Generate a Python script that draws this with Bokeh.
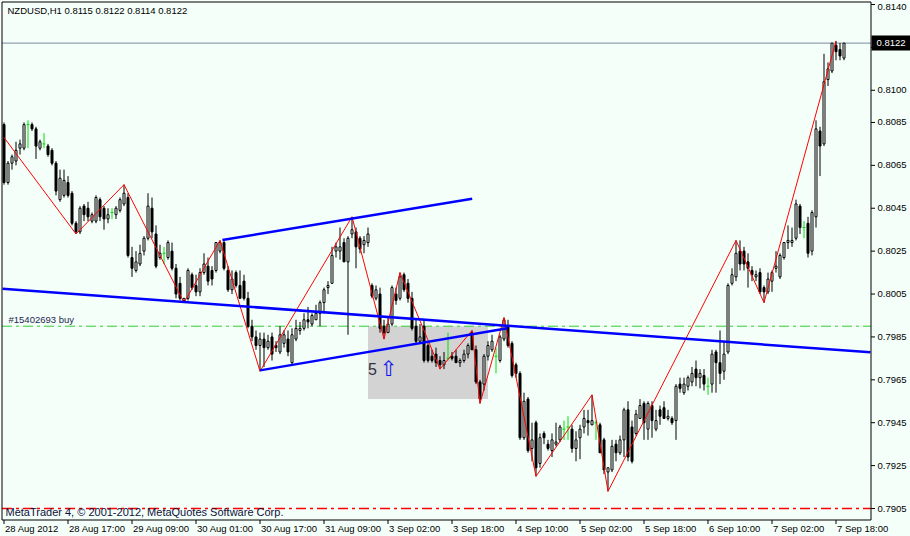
import numpy as np
from bokeh.plotting import figure
from bokeh.models import Range1d
from bokeh.core.properties import value
from bokeh.embed import file_html
from bokeh.resources import INLINE

# ---- NZDUSD H1 candles (bar index 0 = 28 Aug 2012 01:00) ----
opens = [
    0.8084, 0.8057, 0.8066, 0.8067, 0.8073, 0.8073, 0.8084, 0.8084, 0.8082, 0.8073,
    0.8075, 0.8074, 0.8072, 0.8066, 0.8049, 0.8051, 0.8057, 0.8052, 0.8038, 0.8034,
    0.8046, 0.8045, 0.8039, 0.8039, 0.8049, 0.8045, 0.8040, 0.8043, 0.8042, 0.8044,
    0.8047, 0.8050, 0.8022, 0.8016, 0.8019, 0.8025, 0.8031, 0.8045, 0.8033, 0.8022,
    0.8024, 0.8022, 0.8025, 0.8017, 0.8010, 0.8002, 0.8003, 0.8014, 0.8009, 0.8006,
    0.8015, 0.8018, 0.8016, 0.8016, 0.8025, 0.8029, 0.8016, 0.8007, 0.8015, 0.8009,
    0.8011, 0.8003, 0.7990, 0.7985, 0.7981, 0.7984, 0.7980, 0.7985, 0.7981, 0.7978,
    0.7982, 0.7984, 0.7973, 0.7984, 0.7988, 0.7989, 0.7993, 0.7991, 0.7993, 0.7996,
    0.8001, 0.8008, 0.8010, 0.8025, 0.8025, 0.8029, 0.8020, 0.8033, 0.8034, 0.8031,
    0.8028, 0.8029, 0.8009, 0.8003, 0.8005, 0.7990, 0.7987, 0.7991, 0.8005, 0.8003,
    0.8014, 0.8010, 0.8003, 0.7990, 0.7983, 0.7990, 0.7981, 0.7976, 0.7977, 0.7974,
    0.7972, 0.7975, 0.7976, 0.7976, 0.7973, 0.7974, 0.7977, 0.7987, 0.7979, 0.7964,
    0.7963, 0.7976, 0.7979, 0.7976, 0.7974, 0.7984, 0.7990, 0.7982, 0.7972, 0.7968,
    0.7938, 0.7956, 0.7933, 0.7945, 0.7926, 0.7940, 0.7935, 0.7932, 0.7935, 0.7937,
    0.7942, 0.7943, 0.7942, 0.7933, 0.7938, 0.7943, 0.7946, 0.7944, 0.7945, 0.7944,
    0.7937, 0.7922, 0.7923, 0.7935, 0.7931, 0.7937, 0.7951, 0.7943, 0.7940, 0.7947,
    0.7954, 0.7942, 0.7953, 0.7942, 0.7951, 0.7952, 0.7947, 0.7947, 0.7946, 0.7963,
    0.7959, 0.7962, 0.7964, 0.7970, 0.7966, 0.7967, 0.7962, 0.7963, 0.7978, 0.7973,
    0.7969, 0.7978, 0.8010, 0.8013, 0.8025, 0.8025, 0.8020, 0.8016, 0.8013, 0.8015,
    0.8008, 0.8006, 0.8011, 0.8017, 0.8013, 0.8022, 0.8029, 0.8029, 0.8031, 0.8046,
    0.8036, 0.8038, 0.8025, 0.8041, 0.8081, 0.8075, 0.8105, 0.8109, 0.8121, 0.8119,
    0.8115,
]
highs = [
    0.8085, 0.8067, 0.8070, 0.8076, 0.8077, 0.8085, 0.8086, 0.8085, 0.8083, 0.8077,
    0.8080, 0.8075, 0.8073, 0.8067, 0.8063, 0.8063, 0.8060, 0.8053, 0.8039, 0.8046,
    0.8047, 0.8048, 0.8043, 0.8051, 0.8050, 0.8046, 0.8045, 0.8045, 0.8046, 0.8050,
    0.8056, 0.8052, 0.8027, 0.8025, 0.8028, 0.8032, 0.8052, 0.8050, 0.8037, 0.8028,
    0.8027, 0.8030, 0.8029, 0.8019, 0.8013, 0.8003, 0.8017, 0.8015, 0.8014, 0.8017,
    0.8024, 0.8022, 0.8018, 0.8029, 0.8030, 0.8030, 0.8018, 0.8016, 0.8016, 0.8016,
    0.8014, 0.8006, 0.7993, 0.7988, 0.7987, 0.7987, 0.7986, 0.7987, 0.7983, 0.7990,
    0.7988, 0.7988, 0.7989, 0.7993, 0.7992, 0.7996, 0.7999, 0.7996, 0.8000, 0.8002,
    0.8008, 0.8011, 0.8027, 0.8029, 0.8036, 0.8031, 0.8032, 0.8041, 0.8036, 0.8032,
    0.8032, 0.8036, 0.8010, 0.8009, 0.8008, 0.7993, 0.7994, 0.8009, 0.8008, 0.8015,
    0.8015, 0.8012, 0.8006, 0.7993, 0.7991, 0.7993, 0.7982, 0.7979, 0.7980, 0.7976,
    0.7978, 0.7987, 0.7978, 0.7979, 0.7975, 0.7979, 0.7982, 0.7988, 0.7981, 0.7965,
    0.7977, 0.7983, 0.7986, 0.7980, 0.7986, 0.7994, 0.7993, 0.7983, 0.7973, 0.7969,
    0.7959, 0.7957, 0.7945, 0.7946, 0.7940, 0.7941, 0.7937, 0.7940, 0.7945, 0.7944,
    0.7946, 0.7948, 0.7944, 0.7941, 0.7944, 0.7951, 0.7951, 0.7958, 0.7946, 0.7945,
    0.7938, 0.7924, 0.7937, 0.7937, 0.7939, 0.7952, 0.7955, 0.7946, 0.7951, 0.7956,
    0.7955, 0.7955, 0.7955, 0.7951, 0.7953, 0.7955, 0.7951, 0.7948, 0.7963, 0.7966,
    0.7966, 0.7967, 0.7971, 0.7974, 0.7970, 0.7970, 0.7966, 0.7979, 0.7979, 0.7988,
    0.7983, 0.8010, 0.8017, 0.8030, 0.8030, 0.8027, 0.8024, 0.8018, 0.8016, 0.8017,
    0.8009, 0.8015, 0.8016, 0.8025, 0.8024, 0.8029, 0.8037, 0.8036, 0.8049, 0.8047,
    0.8039, 0.8041, 0.8044, 0.8086, 0.8083, 0.8117, 0.8113, 0.8122, 0.8123, 0.8122,
    0.8122,
]
lows = [
    0.8056, 0.8056, 0.8063, 0.8065, 0.8070, 0.8072, 0.8073, 0.8081, 0.8068, 0.8072,
    0.8073, 0.8069, 0.8065, 0.8051, 0.8048, 0.8050, 0.8050, 0.8037, 0.8033, 0.8033,
    0.8039, 0.8039, 0.8038, 0.8038, 0.8039, 0.8035, 0.8038, 0.8040, 0.8040, 0.8043,
    0.8046, 0.8022, 0.8013, 0.8015, 0.8018, 0.8023, 0.8030, 0.8031, 0.8017, 0.8021,
    0.8019, 0.8021, 0.8016, 0.8003, 0.8002, 0.8001, 0.8002, 0.8007, 0.8004, 0.8004,
    0.8014, 0.8009, 0.8009, 0.8015, 0.8024, 0.8016, 0.8006, 0.8005, 0.8008, 0.8003,
    0.8002, 0.7989, 0.7983, 0.7979, 0.7969, 0.7971, 0.7979, 0.7974, 0.7978, 0.7977,
    0.7980, 0.7976, 0.7972, 0.7983, 0.7986, 0.7988, 0.7989, 0.7990, 0.7993, 0.7990,
    0.7996, 0.8005, 0.8010, 0.8022, 0.8021, 0.8020, 0.7986, 0.8031, 0.8017, 0.8024,
    0.8024, 0.8027, 0.8003, 0.8002, 0.7987, 0.7984, 0.7987, 0.7990, 0.8000, 0.8002,
    0.8006, 0.8001, 0.7988, 0.7982, 0.7982, 0.7973, 0.7973, 0.7973, 0.7971, 0.7970,
    0.7970, 0.7974, 0.7974, 0.7973, 0.7971, 0.7973, 0.7975, 0.7979, 0.7963, 0.7954,
    0.7960, 0.7974, 0.7978, 0.7968, 0.7973, 0.7983, 0.7980, 0.7966, 0.7966, 0.7937,
    0.7937, 0.7931, 0.7927, 0.7920, 0.7924, 0.7935, 0.7932, 0.7929, 0.7934, 0.7936,
    0.7937, 0.7937, 0.7931, 0.7927, 0.7928, 0.7940, 0.7939, 0.7944, 0.7937, 0.7931,
    0.7921, 0.7913, 0.7922, 0.7927, 0.7930, 0.7929, 0.7927, 0.7926, 0.7939, 0.7947,
    0.7937, 0.7937, 0.7938, 0.7941, 0.7944, 0.7947, 0.7946, 0.7944, 0.7937, 0.7959,
    0.7958, 0.7960, 0.7962, 0.7962, 0.7961, 0.7960, 0.7958, 0.7959, 0.7959, 0.7963,
    0.7965, 0.7977, 0.8009, 0.8011, 0.8016, 0.8016, 0.8008, 0.8011, 0.8011, 0.8005,
    0.8001, 0.8005, 0.8006, 0.8015, 0.8012, 0.8021, 0.8026, 0.8027, 0.8030, 0.8033,
    0.8031, 0.8022, 0.8023, 0.8036, 0.8060, 0.8074, 0.8102, 0.8108, 0.8114, 0.8114,
    0.8114,
]
closes = [
    0.8057, 0.8066, 0.8069, 0.8072, 0.8075, 0.8084, 0.8084, 0.8082, 0.8074, 0.8076,
    0.8075, 0.8070, 0.8066, 0.8053, 0.8059, 0.8058, 0.8051, 0.8038, 0.8034, 0.8045,
    0.8042, 0.8041, 0.8042, 0.8050, 0.8041, 0.8040, 0.8042, 0.8043, 0.8045, 0.8049,
    0.8052, 0.8023, 0.8017, 0.8020, 0.8024, 0.8031, 0.8046, 0.8034, 0.8018, 0.8024,
    0.8024, 0.8029, 0.8017, 0.8005, 0.8003, 0.8003, 0.8016, 0.8008, 0.8006, 0.8015,
    0.8019, 0.8011, 0.8012, 0.8029, 0.8029, 0.8017, 0.8007, 0.8012, 0.8009, 0.8003,
    0.8003, 0.7990, 0.7985, 0.7981, 0.7984, 0.7980, 0.7983, 0.7977, 0.7980, 0.7986,
    0.7986, 0.7978, 0.7986, 0.7989, 0.7989, 0.7993, 0.7992, 0.7995, 0.7996, 0.8001,
    0.8007, 0.8009, 0.8023, 0.8027, 0.8027, 0.8020, 0.8031, 0.8035, 0.8027, 0.8026,
    0.8030, 0.8033, 0.8004, 0.8007, 0.7989, 0.7987, 0.7991, 0.8008, 0.8002, 0.8013,
    0.8007, 0.8003, 0.7989, 0.7983, 0.7985, 0.7974, 0.7974, 0.7974, 0.7973, 0.7972,
    0.7974, 0.7975, 0.7975, 0.7973, 0.7974, 0.7977, 0.7981, 0.7979, 0.7964, 0.7956,
    0.7976, 0.7981, 0.7983, 0.7976, 0.7985, 0.7993, 0.7981, 0.7967, 0.7968, 0.7938,
    0.7955, 0.7932, 0.7937, 0.7924, 0.7938, 0.7938, 0.7933, 0.7937, 0.7936, 0.7943,
    0.7942, 0.7943, 0.7933, 0.7937, 0.7942, 0.7947, 0.7945, 0.7946, 0.7945, 0.7931,
    0.7923, 0.7924, 0.7934, 0.7931, 0.7937, 0.7951, 0.7929, 0.7927, 0.7949, 0.7953,
    0.7945, 0.7954, 0.7946, 0.7946, 0.7948, 0.7947, 0.7948, 0.7945, 0.7962, 0.7961,
    0.7963, 0.7966, 0.7968, 0.7966, 0.7968, 0.7963, 0.7962, 0.7977, 0.7973, 0.7968,
    0.7977, 0.8009, 0.8014, 0.8024, 0.8019, 0.8019, 0.8017, 0.8014, 0.8014, 0.8006,
    0.8006, 0.8012, 0.8015, 0.8018, 0.8023, 0.8029, 0.8030, 0.8030, 0.8047, 0.8036,
    0.8036, 0.8024, 0.8043, 0.8082, 0.8074, 0.8104, 0.8110, 0.8122, 0.8118, 0.8116,
    0.8122,
]

# ---- ZigZag turning points (bar index, price) ----
zz_bars = [0, 18, 30, 45, 54, 64, 87, 95, 99, 109, 117, 119, 125, 133, 147, 151, 183, 190, 208]
zz_prices = [0.8078, 0.8033, 0.8056, 0.8001, 0.8030, 0.7969, 0.8041, 0.7984, 0.8015, 0.7970,
             0.7988, 0.7954, 0.7994, 0.7920, 0.7958, 0.7913, 0.8030, 0.8001, 0.8123]

# ---- trend lines: long support, channel top, channel bottom ----
tl_bar0 = [-0.375, 54.6, 64.0]
tl_price0 = [0.80075, 0.80302, 0.79694]
tl_bar1 = [216.625, 117.05, 125.9]
tl_price1 = [0.79778, 0.80494, 0.79890]

# ---- shaded zone ----
zone_bars = [91, 121]
zone_prices = [0.7956, 0.7990]

# ---- horizontal levels ----
bid_price = 0.8122
order_price = 0.7990
stop_price = 0.7905

# ---- scales ----
price_ticks = [0.7905, 0.7925, 0.7945, 0.7965, 0.7985, 0.8005, 0.8025, 0.8045,
               0.8065, 0.8085, 0.8100, 0.8120, 0.8140]
time_ticks = [0, 16, 32, 48, 64, 80, 96, 112, 128, 144, 160, 176, 192, 208]
time_labels = ["28 Aug 2012", "28 Aug 17:00", "29 Aug 09:00", "30 Aug 01:00",
               "30 Aug 17:00", "31 Aug 09:00", "3 Sep 02:00", "3 Sep 18:00",
               "4 Sep 10:00", "5 Sep 02:00", "5 Sep 18:00", "6 Sep 10:00",
               "7 Sep 02:00", "7 Sep 18:00"]

title_text = "NZDUSD,H1  0.8115 0.8122 0.8114 0.8122"
order_text = "#15402693 buy"
watermark = "MetaTrader 4, \u00a9 2001-2012, MetaQuotes Software Corp."

W, H = 910, 536
BG = "#F5FFFA"
FONT = "Liberation Sans"
DOJI = "#00E000"

# Terminal-style layout: 4 px per hourly bar, 0.0235 of price per 504 px.
PX_PER_PRICE = 504 / 0.0235
TOP_PRICE, TOP_PX = 0.8140, 4.0


def at_y(px):
    """Price shown at a given pixel row of the chart window."""
    return TOP_PRICE - (px - TOP_PX) / PX_PER_PRICE


def at_x(px):
    """Bar position shown at a given pixel column of the chart window."""
    return (px - 3.5) / 4.0


def px_h(px):
    """A pixel height expressed in price units."""
    return px / PX_PER_PRICE


o = np.array(opens)
h = np.array(highs)
l = np.array(lows)
c = np.array(closes)
idx = np.arange(len(o))
up = c > o
down = c < o
flat = c == o

p = figure(width=W, height=H, output_backend="svg", toolbar_location=None,
           x_range=Range1d(at_x(0), at_x(W)), y_range=Range1d(at_y(H), at_y(0)),
           x_axis_location=None, y_axis_location=None, min_border=0,
           background_fill_color=BG, border_fill_color=BG, outline_line_color=None)
p.grid.visible = False

left, right = at_x(1.5), at_x(870.5)
top, bottom = at_y(1.5), at_y(519.5)

# shaded zone sits under the candles
p.quad(left=[zone_bars[0]], right=[zone_bars[1]], bottom=[zone_prices[0]], top=[zone_prices[1]],
       fill_color="#D3D3D3", line_color=None)

# horizontal levels
p.segment(x0=[left], x1=[right], y0=[bid_price], y1=[bid_price], line_color="#778899", line_width=1)
p.segment(x0=[left], x1=[right], y0=[order_price], y1=[order_price], line_color="#32CD32",
          line_width=1, line_dash="10 4 3 4")
p.segment(x0=[left], x1=[right], y0=[stop_price], y1=[stop_price], line_color="#FF0000",
          line_width=1.5, line_dash="10 4 3 4")

# candles
p.segment(x0=idx[~flat], y0=l[~flat], x1=idx[~flat], y1=h[~flat], line_color="black", line_width=1)
p.vbar(x=idx[up], width=0.5, bottom=o[up], top=c[up], fill_color=BG,
       line_color="black", line_width=1)
p.vbar(x=idx[down], width=0.5, bottom=c[down], top=o[down], fill_color="black",
       line_color="black", line_width=1)
p.segment(x0=idx[flat], y0=l[flat], x1=idx[flat], y1=h[flat], line_color=DOJI, line_width=1)
p.segment(x0=idx[flat] - 0.375, y0=o[flat], x1=idx[flat] + 0.375, y1=o[flat],
          line_color=DOJI, line_width=1)

# zigzag and trend lines
p.line(zz_bars, zz_prices, line_color="#FF0000", line_width=1)
p.segment(x0=tl_bar0, y0=tl_price0, x1=tl_bar1, y1=tl_price1, line_color="#0000FF", line_width=2.5)

# chart frame
p.quad(left=[left], right=[right], bottom=[bottom], top=[top], fill_color=None,
       line_color="black", line_width=1)

# texts inside the chart
p.text(x=[at_x(7)], y=[at_y(10)], text=[title_text], text_baseline="middle",
       text_font=value(FONT), text_font_size=value("9.5px"), text_color="black")
p.text(x=[at_x(8)], y=[order_price], text=[order_text], y_offset=-1, text_baseline="bottom",
       text_font=value(FONT), text_font_size=value("9.5px"), text_color="#1E1E50")
p.text(x=[at_x(5)], y=[at_y(511)], text=[watermark], text_baseline="middle",
       text_font=value(FONT), text_font_size=value("11px"), text_color="#10103A")
p.text(x=[zone_bars[0]], y=[0.7970], text=["5"], text_baseline="middle",
       text_font=value(FONT), text_font_size=value("16px"), text_color="#303040")
p.text(x=[zone_bars[0] + 3.0], y=[0.7970], text=["\u21e7"], text_baseline="middle",
       text_font=value("DejaVu Sans"), text_font_size=value("21px"), text_color="#1010F0")

# price scale on the right
p.segment(x0=[right] * len(price_ticks), x1=[at_x(874.5)] * len(price_ticks),
          y0=price_ticks, y1=price_ticks, line_color="black", line_width=1)
label_shift = [2 if t == max(price_ticks) else 0 for t in price_ticks]
p.text(x=[at_x(877)] * len(price_ticks), y=price_ticks, text=["%.4f" % t for t in price_ticks],
       y_offset=label_shift, text_align="left", text_baseline="middle",
       text_font=value(FONT), text_font_size=value("9.5px"), text_color="black")

# time scale at the bottom
p.segment(x0=time_ticks, x1=time_ticks, y0=[bottom] * len(time_ticks),
          y1=[at_y(523.5)] * len(time_ticks), line_color="black", line_width=1)
p.text(x=time_ticks, y=[at_y(528)] * len(time_ticks), text=time_labels, x_offset=1,
       text_align="left", text_baseline="middle",
       text_font=value(FONT), text_font_size=value("9.5px"), text_color="black")

# current price tag
p.quad(left=[at_x(871)], right=[at_x(W)], bottom=[bid_price - px_h(7.5)],
       top=[bid_price + px_h(7.5)], fill_color="black", line_color=None)
p.text(x=[at_x(876)], y=[bid_price], text=["%.4f" % bid_price], text_align="left",
       text_baseline="middle", text_font=value(FONT), text_font_size=value("9.5px"),
       text_color="white")

open("out.html", "w").write(file_html(p, INLINE))
